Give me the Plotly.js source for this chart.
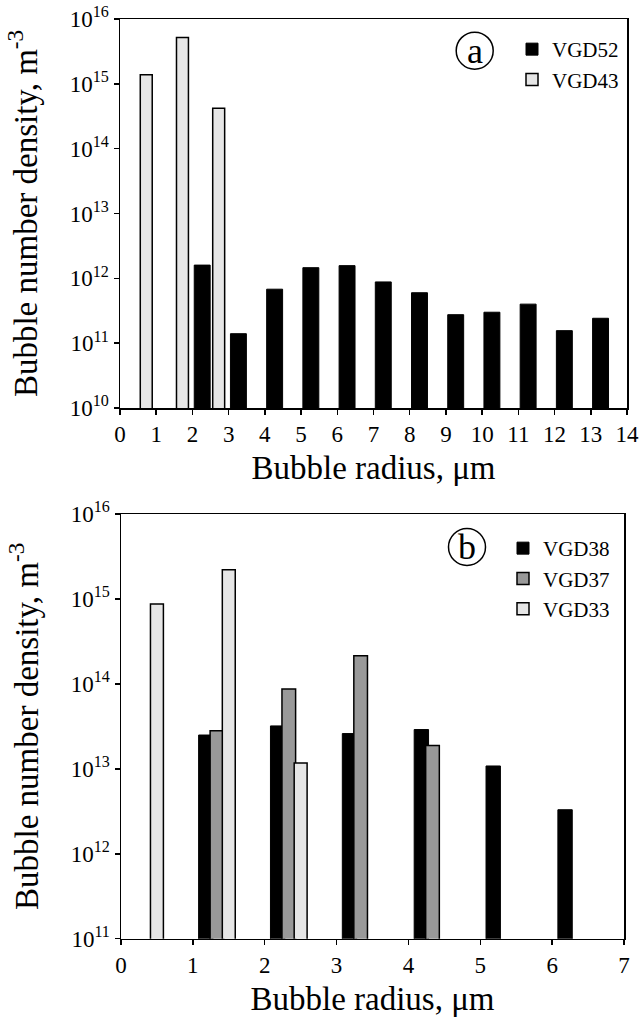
<!DOCTYPE html>
<html>
<head>
<meta charset="utf-8">
<script src="https://cdn.plot.ly/plotly-3.0.1.min.js"></script>
<style>html,body{margin:0;padding:0;background:#fff;}#chart{width:639px;height:1019px;}</style>
</head>
<body>
<div id="chart"></div>
<script>
// ---- Panel (a) ----
var radiusA = [0,1,2,3,4,5,6,7,8,9,10,11,12,13];
var vgd52 = [null,null,1.6e12,1.4e11,6.8e11,1.46e12,1.57e12,8.8e11,6.0e11,2.75e11,3.0e11,4.0e11,1.56e11,2.42e11];
var vgd43 = [1.38e15,5.2e15,4.2e14,null,null,null,null,null,null,null,null,null,null,null];
var ticksA = [0,1,2,3,4,5,6,7,8,9,10,11,12,13,14];
var decadesA = [10,11,12,13,14,15,16];

// ---- Panel (b) ----
var radiusB = [0,1,2,3,4,5,6];
var vgd38 = [null,2.5e13,3.2e13,2.6e13,2.9e13,1.08e13,3.3e12];
var vgd37 = [null,2.8e13,8.7e13,2.14e14,1.88e13,null,null];
var vgd33 = [8.7e14,2.2e15,1.17e13,null,null,null,null];
var ticksB = [0,1,2,3,4,5,6,7];
var decadesB = [11,12,13,14,15,16];

var FONT = "'Liberation Serif', 'Times New Roman', serif";
var W = 639, H = 1019;
function px(x){return x/W;}
function py(y){return 1-y/H;}

var traces = [
  {type:'bar', name:'VGD52', x:radiusA, y:vgd52, xaxis:'x', yaxis:'y', legend:'legend',
   offset:0.05, width:0.44, marker:{color:'#000000', line:{color:'#000000', width:1}}},
  {type:'bar', name:'VGD43', x:radiusA, y:vgd43, xaxis:'x', yaxis:'y', legend:'legend',
   offset:0.56, width:0.33, marker:{color:'#e6e6e6', line:{color:'#000000', width:1.5}}},
  {type:'bar', name:'VGD38', x:radiusB, y:vgd38, xaxis:'x2', yaxis:'y2', legend:'legend2',
   offset:0.08, width:0.2, marker:{color:'#000000', line:{color:'#000000', width:1}}},
  {type:'bar', name:'VGD37', x:radiusB, y:vgd37, xaxis:'x2', yaxis:'y2', legend:'legend2',
   offset:0.24, width:0.19, marker:{color:'#999999', line:{color:'#000000', width:1.5}}},
  {type:'bar', name:'VGD33', x:radiusB, y:vgd33, xaxis:'x2', yaxis:'y2', legend:'legend2',
   offset:0.41, width:0.18, marker:{color:'#e6e6e6', line:{color:'#000000', width:1.5}}}
];

function xax(domain, range, tickvals, anchor){
  return {domain:domain, range:range, anchor:anchor, tickmode:'array', tickvals:tickvals, ticktext:tickvals.map(String),
    ticks:'outside', ticklen:5, tickwidth:1.5, tickcolor:'#000',
    showline:true, linewidth:1.5, linecolor:'#000', mirror:true,
    showgrid:false, zeroline:false, fixedrange:true,
    tickfont:{family:FONT, size:23, color:'#000'},
    title:{text:'Bubble radius, μm', font:{family:FONT, size:33, color:'#000'}, standoff:10}};
}
function yax(domain, decades, anchor){
  return {domain:domain, type:'log', range:[decades[0], decades[decades.length-1]], anchor:anchor,
    tickmode:'array',
    tickvals:decades.map(function(d){return Math.pow(10,d);}),
    ticktext:decades.map(function(d){return '10<sup>'+d+'</sup>';}),
    ticks:'outside', ticklen:5, tickwidth:1.5, tickcolor:'#000',
    showline:true, linewidth:1.5, linecolor:'#000', mirror:true,
    showgrid:false, zeroline:false, fixedrange:true,
    tickfont:{family:FONT, size:23, color:'#000'},
    title:{text:'Bubble number density, m<sup>-3</sup>', font:{family:FONT, size:33, color:'#000'}, standoff:22}};
}

var layout = {
  width:W, height:H,
  margin:{l:0, r:0, t:0, b:0},
  paper_bgcolor:'#fff', plot_bgcolor:'#fff',
  barmode:'overlay',
  showlegend:true,
  xaxis: xax([px(120), px(627)], [0,14], ticksA, 'y'),
  yaxis: yax([py(408), py(19)], decadesA, 'x'),
  xaxis2: xax([px(121), px(624)], [0,7], ticksB, 'y2'),
  yaxis2: yax([py(938.7), py(514)], decadesB, 'x2'),
  legend:{x:px(512), y:py(29), xanchor:'left', yanchor:'top', bgcolor:'rgba(0,0,0,0)',
    font:{family:FONT, size:21, color:'#000'}, tracegroupgap:0, traceorder:'normal'},
  legend2:{x:px(503), y:py(528), xanchor:'left', yanchor:'top', bgcolor:'rgba(0,0,0,0)',
    font:{family:FONT, size:21, color:'#000'}, tracegroupgap:0, traceorder:'normal'},
  shapes:[
    {type:'circle', xref:'paper', yref:'paper', x0:px(456.2), x1:px(493.2), y0:py(69.2), y1:py(32.2), line:{color:'#000', width:1.5}},
    {type:'circle', xref:'paper', yref:'paper', x0:px(448.5), x1:px(485.5), y0:py(565.5), y1:py(528.5), line:{color:'#000', width:1.5}}
  ],
  annotations:[
    {text:'a', xref:'paper', yref:'paper', x:px(474.7), y:py(50.7), xanchor:'center', yanchor:'middle', showarrow:false, font:{family:FONT, size:36, color:'#000'}},
    {text:'b', xref:'paper', yref:'paper', x:px(467), y:py(547), xanchor:'center', yanchor:'middle', showarrow:false, font:{family:FONT, size:36, color:'#000'}}
  ]
};

Plotly.newPlot('chart', traces, layout, {displayModeBar:false, staticPlot:true});
</script>
</body>
</html>
